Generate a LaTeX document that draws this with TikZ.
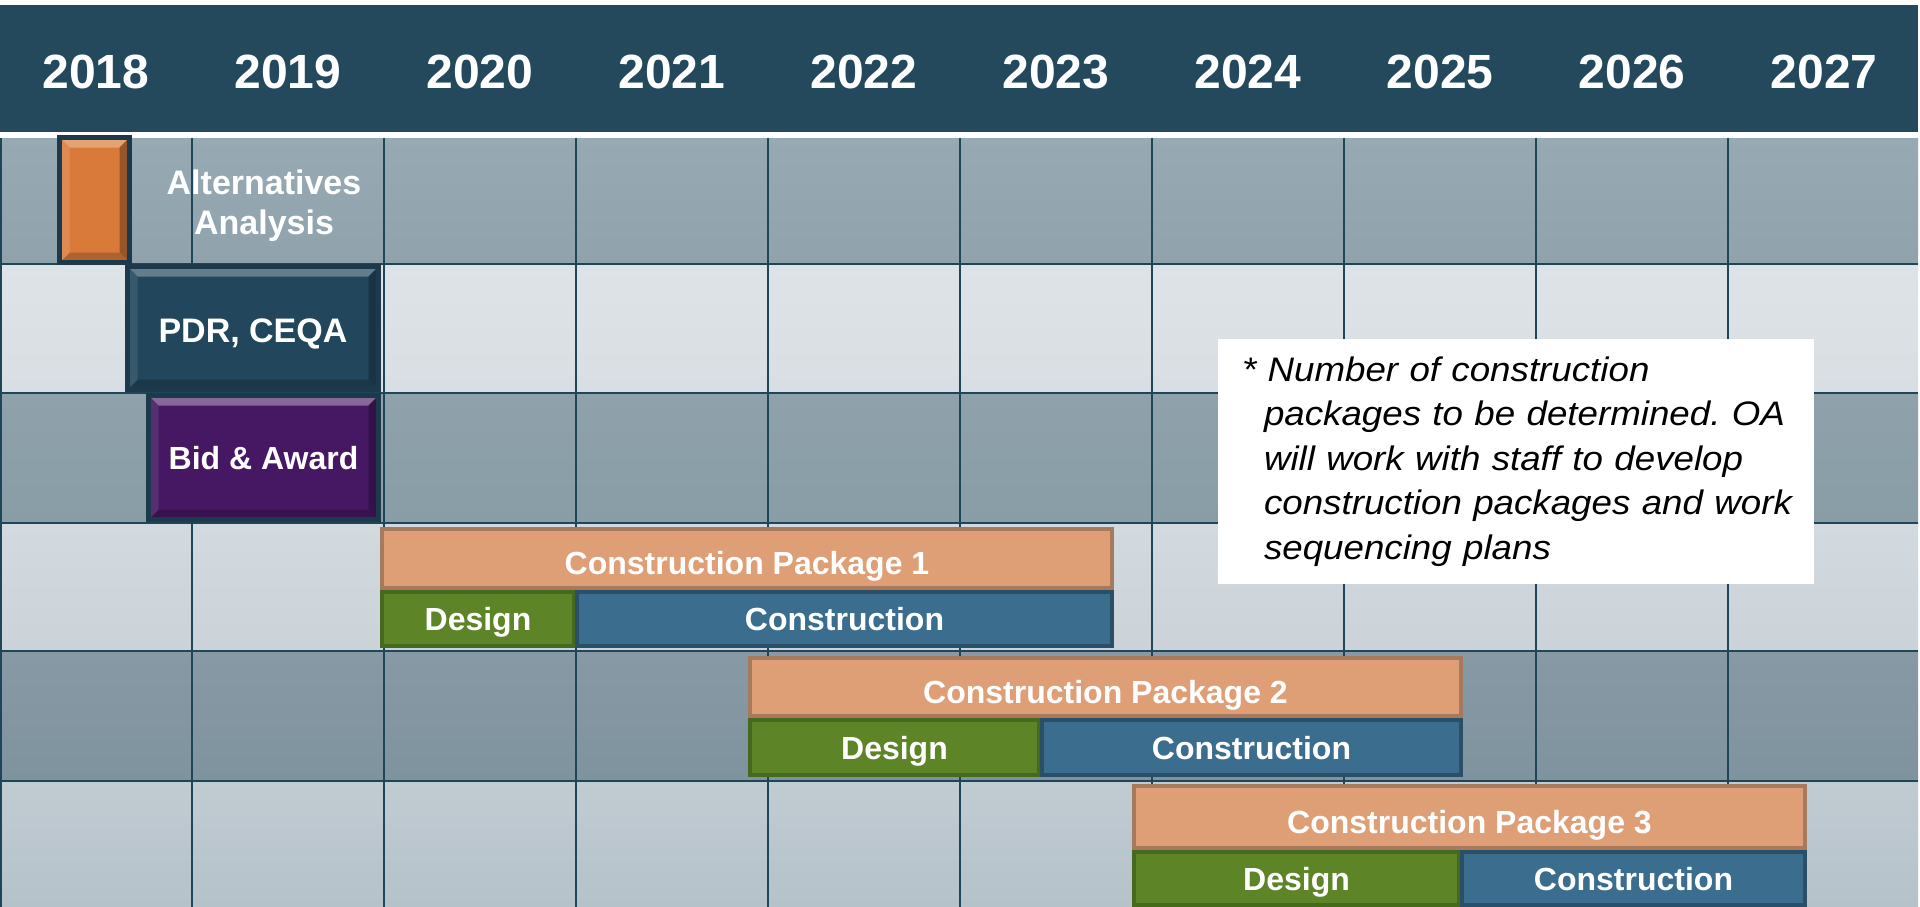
\documentclass[tikz,border=0pt]{standalone}
\usepackage{fontspec}
\setmainfont{Liberation Sans}
\newfontfamily\notefont[FakeStretch=1.08]{Liberation Sans}
\usetikzlibrary{calc}
\definecolor{hdr}{HTML}{24495D}
\definecolor{gridc}{HTML}{1F4658}
\definecolor{salm}{HTML}{DE9F76}
\definecolor{salmb}{HTML}{A77A5D}
\definecolor{desg}{HTML}{5D8527}
\definecolor{desgb}{HTML}{456A1D}
\definecolor{cons}{HTML}{3A6D8E}
\definecolor{consb}{HTML}{2A4F66}
\definecolor{orng}{HTML}{D97A3A}
\definecolor{pdrc}{HTML}{22465B}
\definecolor{bidc}{HTML}{461762}
\definecolor{boxb}{HTML}{1C3A4B}
\tikzset{
  bevel/.style n args={5}{path picture={
    \fill[#1] (path picture bounding box.north west) -- (path picture bounding box.north east)
      -- ($(path picture bounding box.north east)+(-#5,-#5)$) -- ($(path picture bounding box.north west)+(#5,-#5)$) -- cycle;
    \fill[#2] (path picture bounding box.north east) -- (path picture bounding box.south east)
      -- ($(path picture bounding box.south east)+(-#5,#5)$) -- ($(path picture bounding box.north east)+(-#5,-#5)$) -- cycle;
    \fill[#3] (path picture bounding box.south east) -- (path picture bounding box.south west)
      -- ($(path picture bounding box.south west)+(#5,#5)$) -- ($(path picture bounding box.south east)+(-#5,#5)$) -- cycle;
    \fill[#4] (path picture bounding box.south west) -- (path picture bounding box.north west)
      -- ($(path picture bounding box.north west)+(#5,-#5)$) -- ($(path picture bounding box.south west)+(#5,#5)$) -- cycle;
  }},
  bar/.style={draw, line width=4pt, inner sep=0pt, outer sep=0pt, text=white,
    font=\bfseries\fontsize{32}{38}\selectfont, text depth=0pt},
  pkg/.style={bar, fill=salm, draw=salmb, text height=32pt},
  dsg/.style={bar, fill=desg, draw=desgb, text height=23pt},
  cst/.style={bar, fill=cons, draw=consb, text height=23pt},
  phase/.style={draw=boxb, line width=5pt, inner sep=0pt, outer sep=0pt, text=white,
    font=\bfseries\fontsize{34}{40}\selectfont, text depth=0pt},
  yearlbl/.style={text=white, inner sep=0pt, font=\bfseries\fontsize{48}{58}\selectfont},
  gridline/.style={draw=gridc, line width=2pt},
}
\frenchspacing
\begin{document}
\begin{tikzpicture}[x=1pt,y=-1pt]
\useasboundingbox (0,0) rectangle (1920,907);
\fill[white] (0,0) rectangle (1920,907);
% header
\fill[hdr] (0,5) rectangle (1918,132);
\foreach \k [evaluate=\k as \yr using int(2018+\k)] in {0,...,9}
  \node[yearlbl] (y\yr) at ({96+192*\k},72) {\yr};
% rows
\shade[top color={rgb,255:red,151;green,169;blue,178}, bottom color={rgb,255:red,144;green,163;blue,173}] (0,138) rectangle (1918,264);
\shade[top color={rgb,255:red,222;green,227;blue,231}, bottom color={rgb,255:red,216;green,222;blue,227}] (0,264) rectangle (1918,393);
\shade[top color={rgb,255:red,143;green,162;blue,172}, bottom color={rgb,255:red,137;green,157;blue,167}] (0,393) rectangle (1918,523);
\shade[top color={rgb,255:red,210;green,217;blue,223}, bottom color={rgb,255:red,203;green,211;blue,217}] (0,523) rectangle (1918,651);
\shade[top color={rgb,255:red,135;green,153;blue,164}, bottom color={rgb,255:red,127;green,147;blue,158}] (0,651) rectangle (1918,781);
\shade[top color={rgb,255:red,193;green,203;blue,210}, bottom color={rgb,255:red,181;green,194;blue,202}] (0,781) rectangle (1918,907);
% grid
\foreach \yy in {264,393,523,651,781}
  \draw[gridline] (0,\yy) -- (1918,\yy);
\foreach \k in {1,...,9}
  \draw[gridline] ({192*\k},138) -- ({192*\k},907);
\draw[gridline] (1,138) -- (1,907);
% early phases
\node[phase, fill=orng, minimum width=70pt, minimum height=125pt,
  bevel={orng!70!white}{orng!70!black}{orng!80!black}{orng!88!white}{10pt}] (alt) at (94.5,200) {};
\node[text=white, inner sep=0pt, align=center, font=\bfseries\fontsize{34}{40}\selectfont] (altlbl) at (264,206) {Alternatives\\Analysis};
\node[phase, fill=pdrc, minimum width=251pt, minimum height=123pt, text height=28pt,
  bevel={pdrc!70!white}{pdrc!75!black}{pdrc!80!black}{pdrc!90!white}{10pt}] (pdr) at (253,328) {PDR, CEQA};
\node[phase, fill=bidc, minimum width=230pt, minimum height=124pt, text height=23pt,
  font=\bfseries\fontsize{32}{38}\selectfont,
  bevel={bidc!65!white}{bidc!75!black}{bidc!80!black}{bidc!90!white}{10pt}] (bid) at (263.5,457.5) {Bid \& Award};
% construction packages
\node[pkg, minimum width=730pt, minimum height=59pt] (cp1) at (747,558.5) {Construction Package 1};
\node[dsg, minimum width=192pt, minimum height=54pt] (d1) at (478,619) {Design};
\node[cst, minimum width=535pt, minimum height=54pt] (c1) at (844.5,619) {Construction};
\node[pkg, minimum width=711pt, minimum height=58pt] (cp2) at (1105.5,687) {Construction Package 2};
\node[dsg, minimum width=289pt, minimum height=55pt] (d2) at (894.5,747.5) {Design};
\node[cst, minimum width=419pt, minimum height=55pt] (c2) at (1251.5,747.5) {Construction};
\node[pkg, minimum width=671pt, minimum height=62pt] (cp3) at (1469.5,817) {Construction Package 3};
\node[dsg, minimum width=325pt, minimum height=53pt] (d3) at (1296.5,878.5) {Design};
\node[cst, minimum width=343pt, minimum height=53pt] (c3) at (1633.5,878.5) {Construction};
% note
\node[fill=white, minimum width=596pt, minimum height=245pt, inner xsep=8pt, inner ysep=0pt,
  text width=580pt, align=left, font=\notefont\itshape\fontsize{34}{44.5}\selectfont] (note) at (1516,461.5)
  {\hspace*{16pt}* Number of construction\\
   \hspace*{38pt}packages to be determined. OA\\
   \hspace*{38pt}will work with staff to develop\\
   \hspace*{38pt}construction packages and work\\
   \hspace*{38pt}sequencing plans};
\end{tikzpicture}
\end{document}
